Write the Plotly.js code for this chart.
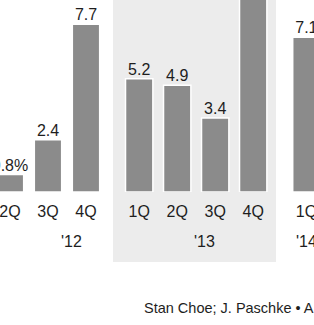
<!DOCTYPE html>
<html>
<head>
<meta charset="utf-8">
<script src="https://cdn.plot.ly/plotly-3.0.1.min.js"></script>
<style>html,body{margin:0;padding:0;background:#fff;}#chart{width:314px;height:325px;}</style>
</head>
<body>
<div id="chart"></div>
<script>
// Data
var years = ["'12", "'12", "'12", "'13", "'13", "'13", "'13", "'14"];
var quarters = ["2Q", "3Q", "4Q", "1Q", "2Q", "3Q", "4Q", "1Q"];
var values = [0.8, 2.4, 7.7, 5.2, 4.9, 3.4, 9.6, 7.1];
var valueLabels = ["0.8%", "2.4", "7.7", "5.2", "4.9", "3.4", "9.6", "7.1"];
var yearLabels = ["'12", "'13", "'14"];
var sourceText = "Stan Choe; J. Paschke \u2022 AP";

// Layout helpers: positions from order, extra gap between years
var YEAR_GAP = 0.4;
var Y_MAX = 192 / 21.8;
var pos = [];
var yi = 0;
for (var i = 0; i < quarters.length; i++) {
  if (i > 0 && years[i] !== years[i - 1]) yi++;
  pos.push(i + yi * YEAR_GAP);
}
var groupPos = {};
years.forEach(function (y, i) { (groupPos[y] = groupPos[y] || []).push(pos[i]); });
// label offset from the first visible quarter of each year (layout only)
var yearLabelOffset = {"'12": 1.63, "'13": 1.73, "'14": 0};
var font = "Liberation Sans, Arial, Helvetica, sans-serif";
var dark = "#1e1e1e";

var bars = {
  type: "bar",
  x: pos,
  y: values,
  width: 0.72,
  marker: {color: "#8b8b8b", line: {color: "#ffffff", width: 1.5}},
  hoverinfo: "skip"
};
// labels of bars that run past the top of the picture are not visible
var labels = {
  type: "scatter",
  mode: "text",
  x: pos,
  y: values,
  text: valueLabels.map(function (t, i) { return values[i] < Y_MAX ? t : ""; }),
  textposition: "top center",
  textfont: {family: font, size: 16, color: dark},
  cliponaxis: false,
  hoverinfo: "skip"
};

var annotations = yearLabels.map(function (y) {
  var c = groupPos[y][0] + yearLabelOffset[y];
  return {
    text: y, x: c, xref: "x", y: -0.26, yref: "paper",
    showarrow: false, xanchor: "center", yanchor: "middle",
    font: {family: font, size: 16, color: dark}
  };
});
annotations.push({
  text: sourceText, x: 142 / 314, xref: "paper", y: -0.605, yref: "paper",
  showarrow: false, xanchor: "left", yanchor: "middle",
  font: {family: font, size: 14.5, color: dark}
});

var p13 = groupPos["'13"];
var layout = {
  width: 314, height: 325,
  margin: {l: 0, r: 0, t: 0, b: 133, pad: 0},
  paper_bgcolor: "#ffffff",
  plot_bgcolor: "rgba(0,0,0,0)",
  showlegend: false,
  bargap: 0,
  xaxis: {
    range: [-10 / 38, -10 / 38 + 314 / 38],
    tickvals: pos, ticktext: quarters,
    showgrid: false, zeroline: false, showline: false, ticks: "",
    tickfont: {family: font, size: 16, color: dark},
    ticklabelstandoff: 8,
    ticklabeloverflow: "allow",
    fixedrange: true
  },
  yaxis: {
    range: [0, Y_MAX],
    showgrid: false, zeroline: false, showline: false,
    showticklabels: false, ticks: "", fixedrange: true
  },
  shapes: [{
    type: "rect", layer: "below",
    xref: "x", yref: "paper",
    x0: Math.min.apply(null, p13) - 0.69, x1: Math.max.apply(null, p13) + 0.6,
    y0: -0.365, y1: 1.05,
    fillcolor: "#ececec", line: {width: 0}
  }],
  annotations: annotations
};

Plotly.newPlot("chart", [bars, labels], layout, {displayModeBar: false, staticPlot: true});
</script>
</body>
</html>
